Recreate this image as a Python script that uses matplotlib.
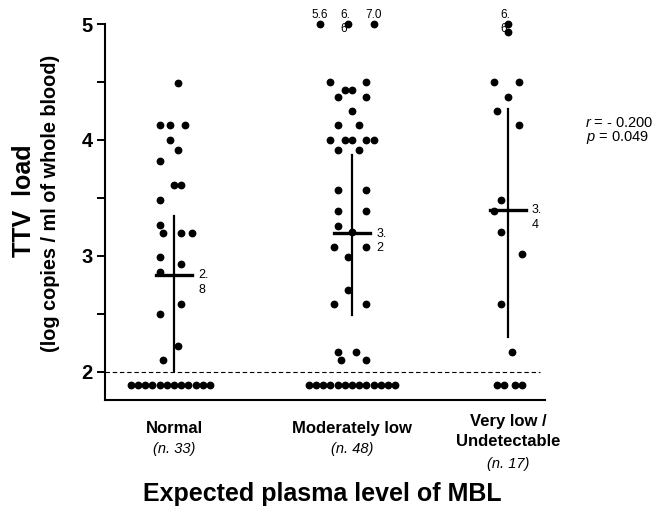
import matplotlib.pyplot as plt
from matplotlib.transforms import blended_transform_factory
import numpy as np

plt.rcParams['font.family'] = ['Liberation Sans', 'DejaVu Sans']
plt.rcParams['mathtext.fontset'] = 'custom'
plt.rcParams['mathtext.rm'] = 'Liberation Sans'
plt.rcParams['mathtext.it'] = 'Liberation Sans:italic'

# grupos
categorias = ['Normal', 'Moderately low', 'Very low /\nUndetectable']
n_labels = ['(n. 33)', '(n. 48)', '(n. 17)']

# valores detectaveis (log copias / ml)
normal_vals = [4.49, 4.13, 4.13, 4.13, 4.00, 3.91, 3.82, 3.61, 3.61, 3.48, 3.27,
               3.20, 3.20, 3.20, 2.99, 2.93, 2.86, 2.59, 2.50, 2.22, 2.10]
moder_vals = [5.6, 6.6, 7.0, 4.50, 4.50, 4.43, 4.43, 4.37, 4.37, 4.25, 4.13, 4.13,
              4.00, 4.00, 4.00, 4.00, 4.00, 3.91, 3.91, 3.57, 3.57, 3.39, 3.39,
              3.26, 3.21, 3.08, 3.08, 2.99, 2.71, 2.59, 2.59, 2.17, 2.17, 2.10, 2.10]
verylow_vals = [6.6, 4.93, 4.50, 4.50, 4.37, 4.25, 4.13, 3.48, 3.39, 3.21, 3.02,
                2.59, 2.17]
# amostras abaixo do limite de deteccao (2 log)
n_abaixo = [12, 13, 4]

# media e barra vertical (inferior, superior)
medias = [2.836, 3.196, 3.40]
medias_txt = ['2.8', '3.2', '3.4']
barra_inf = [2.012, 2.49, 2.30]
barra_sup = [3.345, 3.87, 4.265]

stats_r = '- 0.200'
stats_p = '0.049'

# deslocamento horizontal de cada ponto (em "slots")
normal_jit = [1, -4, -1, 3, -1, 1, -4, 0, 2, -4, -4, -3, 2, 5, -4, 2, -4, 2, -4, 1, -3]
moder_jit = [-9, -1, 6, -6, 4, -2, 0, -4, 4, 0, -4, 2, -6, -2, 0, 4, 6, -4, 2, -4, 4,
             -4, 4, -4, 0, -5, 4, -1, -1, -5, 4, -4, 1, -3, 4]
verylow_jit = [0, 0, -4, 3, 0, -3, 3, -2, -4, -2, 4, -2, 1]
abaixo_jit = [list(range(-12, 11, 2)), list(range(-12, 13, 2)), [-3, -1, 2, 4]]

pos = [1.0, 2.0, 2.876]
slot = 3.6 / 178
topo = 5.0
y_abaixo = 1.89

fig = plt.figure(figsize=(6.69, 5.07), dpi=100)
ax = fig.add_axes([105/669, 1 - 400/507, 440/669, 376/507])
ax.set_xlim(0.6124, 3.084)
ax.set_ylim(1.7586, 5.0)

grupos = [(normal_vals, normal_jit), (moder_vals, moder_jit), (verylow_vals, verylow_jit)]
for i, (vals, jit) in enumerate(grupos):
    vals = np.array(vals)
    xs = pos[i] + np.array(jit) * slot
    ys = np.minimum(vals, topo)
    ax.plot(xs, ys, 'o', color='black', ms=4.6, mec='black', clip_on=False, zorder=3)
    # valores fora de escala
    for x, v in zip(xs, vals):
        if v > topo:
            txt = '%.1f' % v
            if v == 6.6:
                ax.annotate(txt[:2] + '\n' + txt[2:], (x, topo), xytext=(-5.5, 1.2),
                            textcoords='offset points', ha='left', va='center',
                            fontsize=8.5, linespacing=1.25)
            else:
                ax.annotate(txt, (x, topo), xytext=(0, 6.5), textcoords='offset points',
                            ha='center', va='center', fontsize=8.5)
    xb = pos[i] + np.array(abaixo_jit[i]) * slot
    ax.plot(xb, [y_abaixo] * n_abaixo[i], 'o', color='black', ms=4.6, clip_on=False, zorder=3)

    # media e barra
    ax.plot([pos[i], pos[i]], [barra_inf[i], barra_sup[i]], color='black', lw=1.6, zorder=2)
    ax.plot([pos[i] - 0.1, pos[i] + 0.1], [medias[i], medias[i]], color='black', lw=2.4, zorder=2)
    t = medias_txt[i]
    ax.annotate(t[:2] + '\n' + t[2:], (pos[i] + 0.1, medias[i]), xytext=(4.5, 4),
                textcoords='offset points', ha='left', va='top', fontsize=9, linespacing=1.3)

# limite de deteccao
ax.plot([0.6124, 3.056], [2, 2], color='black', lw=0.8, linestyle=(0, (4, 2.5)))

for s in ['top', 'right']:
    ax.spines[s].set_visible(False)
for s in ['left', 'bottom']:
    ax.spines[s].set_linewidth(1.5)
ax.set_xticks([])
ax.set_yticks([2, 3, 4, 5])
ax.set_yticks([2.5, 3.5, 4.5], minor=True)
ax.tick_params(axis='y', which='both', direction='out', length=6, width=1.4)
ax.tick_params(axis='y', which='major', labelsize=14.5, pad=3)
for lab in ax.get_yticklabels():
    lab.set_fontweight('bold')

# textos dos eixos
fig.text(24/669, 1 - 201/507, 'TTV  load', rotation=90, fontsize=18, fontweight='bold',
         ha='center', va='center')
fig.text(51/669, 1 - 203/507, '(log copies / ml of whole blood)', rotation=90, fontsize=14.3,
         fontweight='bold', ha='center', va='center')

trans = blended_transform_factory(ax.transData, fig.transFigure)
ax.text(pos[0], 1 - 428.5/507, categorias[0], transform=trans, ha='center', va='center',
        fontsize=12, fontweight='bold')
ax.text(pos[0], 1 - 449/507, n_labels[0], transform=trans, ha='center', va='center',
        fontsize=10.5, style='italic')
ax.text(pos[1], 1 - 428.5/507, categorias[1], transform=trans, ha='center', va='center',
        fontsize=12, fontweight='bold')
ax.text(pos[1], 1 - 449/507, n_labels[1], transform=trans, ha='center', va='center',
        fontsize=10.5, style='italic')
ax.text(pos[2], 1 - 431.5/507, categorias[2], transform=trans, ha='center', va='center',
        fontsize=12, fontweight='bold', linespacing=1.35)
ax.text(pos[2], 1 - 464/507, n_labels[2], transform=trans, ha='center', va='center',
        fontsize=10.5, style='italic')

fig.text(322/669, 1 - 494/507, 'Expected plasma level of MBL', ha='center', va='center',
         fontsize=18, fontweight='bold')

fig.text(619/669, 1 - 123/507, r'$r$ = ' + stats_r, ha='center', va='center', fontsize=10.5)
fig.text(617/669, 1 - 137/507, r'$p$ = ' + stats_p, ha='center', va='center', fontsize=10.5)

plt.savefig('out.png', dpi=100)
plt.close()
